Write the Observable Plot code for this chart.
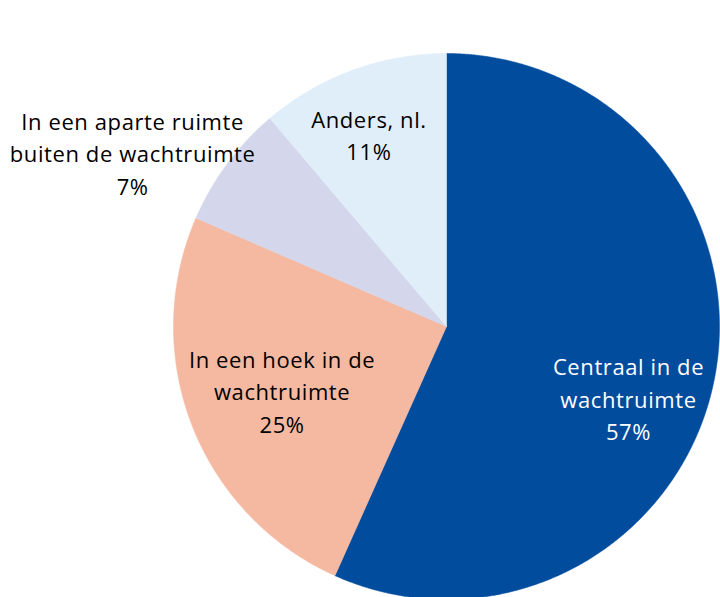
<!DOCTYPE html>
<html><head><meta charset="utf-8">
<script src="https://cdn.jsdelivr.net/npm/d3@7"></script>
<script src="https://cdn.jsdelivr.net/npm/@observablehq/plot@0.6"></script>
<style>body{margin:0;background:#fff;overflow:hidden} svg text{letter-spacing:0.6px}</style>
</head><body><div id="chart"></div>
<script>
const categories = ["Centraal in de wachtruimte", "In een hoek in de wachtruimte", "In een aparte ruimte buiten de wachtruimte", "Anders, nl."];
const labelLines = [["Centraal in de", "wachtruimte"], ["In een hoek in de", "wachtruimte"], ["In een aparte ruimte", "buiten de wachtruimte"], ["Anders, nl."]];
const values = [56.7, 24.8, 7.3, 11.2];
const colors = ["#024c9e", "#f5b9a1", "#d4d7ec", "#e0eefa"];
const textColors = ["#ffffff", "#000000", "#000000", "#000000"];
// label placement: radius factor and angle shift (degrees) relative to slice mid-angle
const labelRadius = [0.72, 0.65, 1.31, 0.75];
const labelShift = [10.14, -0.86, -7.9, -2.1];

const total = d3.sum(values);
let acc = 0;
const slices = values.map((v, i) => {
  const a0 = acc / total * 2 * Math.PI;
  acc += v;
  const a1 = acc / total * 2 * Math.PI;
  return {i, name: categories[i], value: v, a0, a1};
});
const slicePts = slices.map(s => {
  const pts = [{x: 0, y: 0}];
  const n = Math.max(8, Math.ceil((s.a1 - s.a0) / 0.005));
  for (let k = 0; k <= n; k++) {
    const a = s.a0 + (s.a1 - s.a0) * k / n;
    pts.push({x: Math.sin(a), y: Math.cos(a)});
  }
  pts.push({x: 0, y: 0});
  return pts;
});
const lineStep = 32.5;
const labels = [];
slices.forEach(s => {
  const mid = (s.a0 + s.a1) / 2 + labelShift[s.i] * Math.PI / 180;
  const r = labelRadius[s.i];
  const lines = [...labelLines[s.i], Math.round(s.value) + "%"];
  const n = lines.length;
  lines.forEach((t, j) => {
    labels.push({x: r * Math.sin(mid), y: r * Math.cos(mid), text: t, slot: Math.round((j - (n - 1) / 2) * 2), color: textColors[s.i]});
  });
});

const plot = Plot.plot({
  width: 720, height: 597,
  marginLeft: 173, marginRight: 1, marginTop: 53, marginBottom: 0,
  x: {domain: [-1, 1], axis: null},
  y: {domain: [-0.9927, 1], axis: null},
  style: {fontFamily: "'Open Sans', sans-serif", background: "#fff"},
  marks: [
    ...slicePts.map((pts, i) => Plot.line(pts, {x: "x", y: "y", fill: colors[i], stroke: colors[i], strokeWidth: 0.5, curve: "linear"})),
    ...[-2, -1, 0, 1, 2].map(slot => Plot.text(labels, {
      filter: d => d.slot === slot,
      x: "x", y: "y", text: "text", fill: "color", fontSize: 22, dy: slot * lineStep / 2
    }))
  ]
});
document.getElementById("chart").append(plot);
</script>
</body></html>
